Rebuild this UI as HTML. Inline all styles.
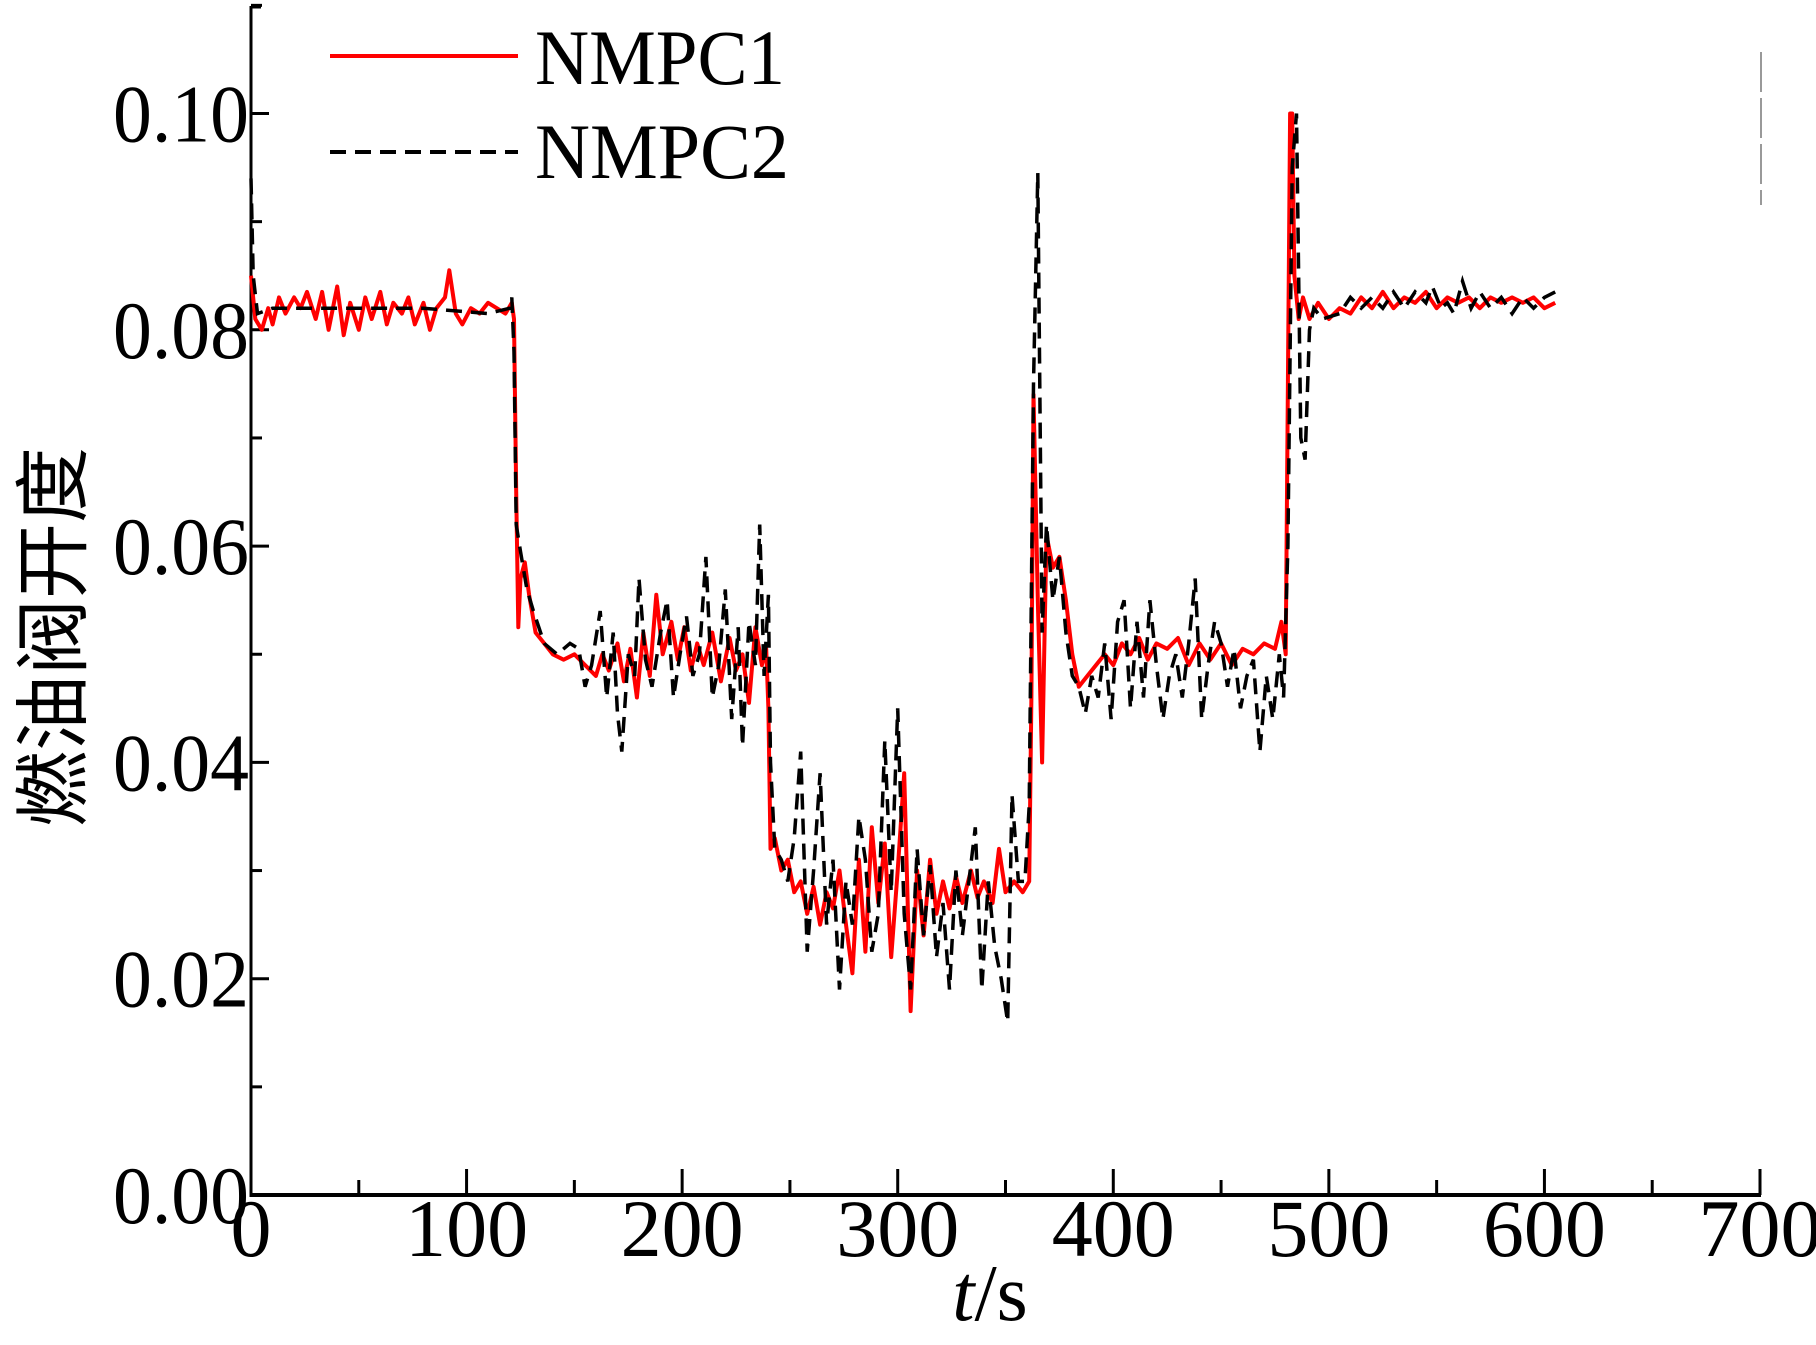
<!DOCTYPE html>
<html><head><meta charset="utf-8"><style>
html,body{margin:0;padding:0;background:#fff;}
svg{display:block;}
text{font-family:"Liberation Serif","Noto Serif CJK SC",serif;fill:#000;}
</style></head><body>
<svg id="chart" width="1816" height="1345" viewBox="0 0 1816 1345" xmlns="http://www.w3.org/2000/svg">
<g id="axes"></g>
<g id="series"></g>
<text transform="translate(80,637) rotate(-90)" text-anchor="middle" font-size="76" style='font-family:"Liberation Sans","Noto Sans CJK SC",sans-serif'>燃油阀开度</text>
<text x="990" y="1320" text-anchor="middle" font-size="80"><tspan font-style="italic">t</tspan>/s</text>
<g>
<line x1="330" y1="56" x2="518" y2="56" stroke="#f00" stroke-width="4"/>
<text x="535" y="84" font-size="78" textLength="250" lengthAdjust="spacingAndGlyphs">NMPC1</text>
<line x1="330" y1="152" x2="518" y2="152" stroke="#000" stroke-width="4" stroke-dasharray="16,9"/>
<text x="535" y="178" font-size="78" textLength="254" lengthAdjust="spacingAndGlyphs">NMPC2</text>
</g>
<line x1="1761" y1="52" x2="1761" y2="205" stroke="#999" stroke-width="2" stroke-dasharray="40,6"/>
</svg>
<script>
const xTicks=[0,100,200,300,400,500,600,700];
const yTicks=[0.00,0.02,0.04,0.06,0.08,0.10];
const yTickLabels=["0.00","0.02","0.04","0.06","0.08","0.10"];
const nmpc1T=[0,2,5,8,10,13,16,20,23,26,30,33,36,40,43,46,50,53,56,60,63,66,70,73,76,80,83,86,90,92,95,98,102,106,110,114,118,121,122,123,124,125,127,129,132,136,140,145,150,155,160,163,166,170,173,176,179,182,185,188,191,195,198,201,204,207,210,214,218,222,225,228,231,234,237,239,240,241,243,246,249,252,255,258,261,264,267,270,273,276,279,282,285,288,291,294,297,300,303,306,309,312,315,318,321,324,327,330,334,337,340,344,347,350,354,358,361,362,363,365,367,369,372,375,378,381,384,388,392,396,400,404,408,412,416,420,425,430,435,440,445,450,455,460,465,470,475,478,480,481,482,483,484,486,488,491,495,500,505,510,515,520,525,530,535,540,545,550,555,560,565,570,575,580,585,590,595,600,605];
const nmpc1V=[0.085,0.081,0.080,0.082,0.0805,0.083,0.0815,0.083,0.082,0.0835,0.081,0.0835,0.080,0.084,0.0795,0.0825,0.080,0.083,0.081,0.0835,0.0805,0.0825,0.0815,0.083,0.0805,0.0825,0.080,0.082,0.083,0.0855,0.0815,0.0805,0.082,0.0815,0.0825,0.082,0.0815,0.0825,0.081,0.065,0.0525,0.057,0.0585,0.0555,0.052,0.051,0.050,0.0495,0.050,0.049,0.048,0.050,0.0485,0.051,0.0475,0.0505,0.046,0.052,0.048,0.0555,0.050,0.053,0.0495,0.0525,0.0485,0.051,0.049,0.052,0.0475,0.0515,0.0485,0.050,0.0455,0.0525,0.049,0.0505,0.045,0.032,0.033,0.030,0.031,0.028,0.029,0.026,0.0285,0.025,0.028,0.0265,0.030,0.025,0.0205,0.031,0.0225,0.034,0.027,0.0325,0.022,0.030,0.039,0.017,0.030,0.024,0.031,0.026,0.029,0.0265,0.0295,0.027,0.030,0.0275,0.029,0.027,0.032,0.028,0.029,0.028,0.029,0.046,0.074,0.055,0.040,0.061,0.058,0.059,0.055,0.050,0.047,0.048,0.049,0.050,0.049,0.051,0.050,0.0515,0.0495,0.051,0.0505,0.0515,0.049,0.051,0.0495,0.051,0.049,0.0505,0.050,0.051,0.0505,0.053,0.050,0.075,0.100,0.100,0.085,0.081,0.083,0.081,0.0825,0.081,0.082,0.0815,0.083,0.082,0.0835,0.082,0.083,0.0825,0.0835,0.082,0.083,0.0825,0.083,0.082,0.083,0.0825,0.083,0.0825,0.083,0.082,0.0825];
const nmpc2T=[0,1,3,10,40,80,110,120,121,122,123,125,128,131,136,142,148,152,155,158,162,165,168,170,172,175,178,180,183,186,190,193,196,199,202,205,208,211,214,217,220,223,226,228,231,234,236,238,240,241,243,246,249,252,255,258,261,264,267,270,273,276,279,282,285,288,291,294,297,300,303,306,309,312,315,318,321,324,327,330,333,336,339,342,345,348,351,353,356,359,361,363,365,367,369,372,375,378,381,384,387,390,393,396,399,402,405,408,411,414,417,420,423,426,429,432,435,438,441,444,447,450,453,456,459,462,465,468,471,474,477,479,481,483,485,487,489,491,493,497,505,510,515,520,525,530,535,540,545,548,552,555,558,562,566,570,575,580,585,590,595,600,605];
const nmpc2V=[0.094,0.085,0.0815,0.082,0.082,0.082,0.0815,0.082,0.083,0.078,0.062,0.0595,0.056,0.054,0.051,0.050,0.051,0.0505,0.047,0.049,0.054,0.046,0.052,0.0445,0.041,0.050,0.048,0.057,0.0495,0.047,0.052,0.055,0.046,0.050,0.0535,0.048,0.050,0.059,0.046,0.049,0.056,0.044,0.0525,0.0415,0.053,0.049,0.062,0.048,0.0555,0.040,0.032,0.031,0.029,0.033,0.041,0.0225,0.030,0.039,0.025,0.031,0.019,0.029,0.025,0.035,0.031,0.0225,0.026,0.042,0.028,0.045,0.026,0.019,0.032,0.024,0.0305,0.022,0.027,0.019,0.030,0.024,0.029,0.034,0.019,0.029,0.023,0.020,0.016,0.037,0.029,0.029,0.036,0.075,0.0945,0.052,0.062,0.055,0.059,0.052,0.048,0.047,0.0445,0.048,0.046,0.051,0.044,0.053,0.055,0.045,0.053,0.046,0.055,0.049,0.044,0.048,0.050,0.046,0.051,0.057,0.044,0.049,0.053,0.051,0.047,0.0505,0.045,0.048,0.0495,0.041,0.048,0.044,0.050,0.046,0.060,0.095,0.100,0.070,0.068,0.080,0.082,0.081,0.0815,0.083,0.082,0.083,0.082,0.0835,0.082,0.0835,0.0825,0.084,0.082,0.0825,0.0815,0.0845,0.082,0.0835,0.082,0.083,0.0815,0.083,0.082,0.083,0.0835];

const NS="http://www.w3.org/2000/svg";
const X0=251,X1=1760,Y0=1195,Y1=113.5;
function xs(t){return X0+(t/700)*(X1-X0);}
function ys(v){return Y0-(v/0.10)*(Y0-Y1);}
const axes=document.getElementById('axes');
function mk(tag,attrs,parent){const e=document.createElementNS(NS,tag);for(const k in attrs)e.setAttribute(k,attrs[k]);parent.appendChild(e);return e;}

let ya=mk('line',{x1:X0,y1:6,x2:X0,y2:Y0+2,stroke:'#000','stroke-width':3},axes);


let ytop=mk('line',{x1:X0,y1:7,x2:X0+10,y2:7,stroke:'#000','stroke-width':3},axes);


let xa=mk('line',{x1:X0-1,y1:Y0,x2:X1+1,y2:Y0,stroke:'#000','stroke-width':4},axes);



for(let i=0;i<xTicks.length;i++){
  const t=xTicks[i];
  if(t>0){
    let tk=mk('line',{x1:xs(t),y1:Y0,x2:xs(t),y2:Y0-26,stroke:'#000','stroke-width':3},axes);
    
    
  }
  if(i<xTicks.length-1){
    let mt=mk('line',{x1:xs(t+50),y1:Y0,x2:xs(t+50),y2:Y0-15,stroke:'#000','stroke-width':3},axes);
    
    
  }
  let lb=mk('text',{x:xs(t),y:1256,'text-anchor':'middle','font-size':82},axes);
  lb.textContent=String(t);
  
  
}
for(let i=0;i<yTicks.length;i++){
  const v=yTicks[i];
  if(v>0){
    let tk=mk('line',{x1:X0,y1:ys(v),x2:X0+18,y2:ys(v),stroke:'#000','stroke-width':3},axes);
    
    
  }
  let mt=mk('line',{x1:X0,y1:ys(v+0.01),x2:X0+11,y2:ys(v+0.01),stroke:'#000','stroke-width':3},axes);
  
  
  let lb=mk('text',{x:249,y:ys(v)+28,'text-anchor':'end','font-size':82,textLength:136,lengthAdjust:'spacingAndGlyphs'},axes);
  lb.textContent=yTickLabels[i];
  
  
}
const ser=document.getElementById('series');
function pathD(T,V){return T.map((t,i)=>(i?'L':'M')+xs(t).toFixed(1)+','+ys(V[i]).toFixed(1)).join(' ');}
let p1=mk('path',{d:pathD(nmpc1T,nmpc1V),fill:'none',stroke:'#f00','stroke-width':4,'stroke-linejoin':'round'},ser);


let p2=mk('path',{d:pathD(nmpc2T,nmpc2V),fill:'none',stroke:'#000','stroke-width':3.5,'stroke-dasharray':'16,9'},ser);


</script>
</body></html>
